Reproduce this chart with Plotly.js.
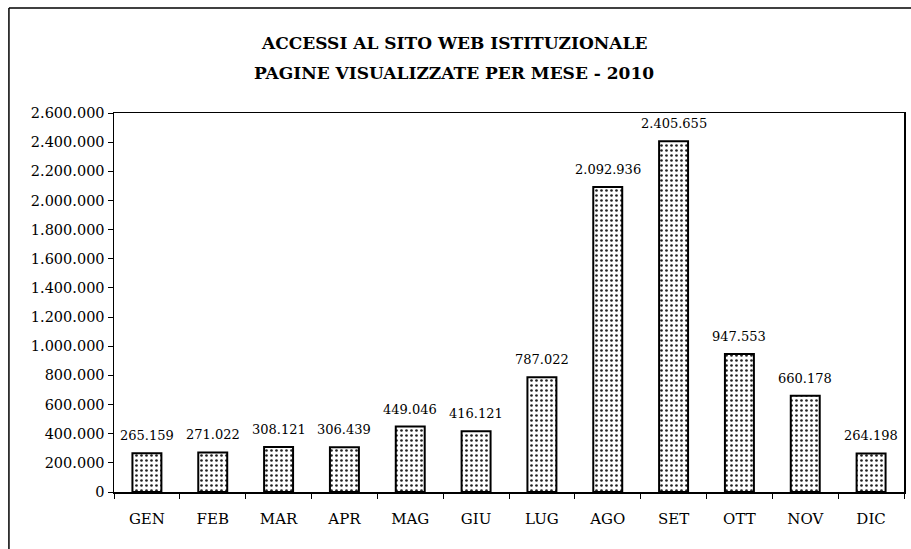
<!DOCTYPE html>
<html>
<head>
<meta charset="utf-8">
<script src="https://cdn.plot.ly/plotly-3.0.1.min.js"></script>
<style>html,body{margin:0;padding:0;background:#fff;}#chart{width:911px;height:549px;}</style>
</head>
<body>
<div id="chart"></div>
<script>
const months = ["GEN","FEB","MAR","APR","MAG","GIU","LUG","AGO","SET","OTT","NOV","DIC"];
const pageViews = [265159, 271022, 308121, 306439, 449046, 416121, 787022, 2092936, 2405655, 947553, 660178, 264198];
const yTickVals = [0,200000,400000,600000,800000,1000000,1200000,1400000,1600000,1800000,2000000,2200000,2400000,2600000];
const titleLines = ["ACCESSI AL SITO WEB ISTITUZIONALE", "PAGINE VISUALIZZATE PER MESE - 2010"];

const serif = "DejaVu Serif, Liberation Serif, serif";

function fmtIt(v) {
  return String(v).replace(/\B(?=(\d{3})+(?!\d))/g, ".");
}

const trace = {
  type: "bar",
  x: months,
  y: pageViews,
  marker: {
    color: "#fff",
    line: {color: "#000", width: 2},
    pattern: {shape: ".", fgcolor: "#222", bgcolor: "#fff", size: 5, solidity: 0.22}
  },
  hoverinfo: "skip"
};

const valueLabels = months.map((m, i) => ({
  text: fmtIt(pageViews[i]),
  x: m, y: pageViews[i], xref: "x", yref: "y",
  xanchor: "center", yanchor: "bottom", yshift: 8,
  showarrow: false,
  font: {family: serif, size: 13, color: "#000"}
}));

const titleAnn = [
  {text: "<b>" + titleLines[0] + "</b>", xref: "paper", yref: "paper", x: 0.43, y: 1.185, xanchor: "center", yanchor: "middle", showarrow: false, font: {family: serif, size: 17, color: "#000"}},
  {text: "<b>" + titleLines[1] + "</b>", xref: "paper", yref: "paper", x: 0.43, y: 1.1055, xanchor: "center", yanchor: "middle", showarrow: false, font: {family: serif, size: 17, color: "#000"}}
];

const layout = {
  width: 911, height: 549,
  margin: {l: 114, r: 7, t: 113, b: 57},
  paper_bgcolor: "#fff", plot_bgcolor: "#fff",
  separators: ",.",
  showlegend: false,
  bargap: 0.56,
  font: {family: serif, color: "#000"},
  annotations: titleAnn.concat(valueLabels),
  xaxis: {
    showline: true, linecolor: "#000", linewidth: 1.5, mirror: true,
    ticks: "outside", tickson: "boundaries", ticklen: 5, tickcolor: "#000",
    ticklabelstandoff: 12,
    showgrid: false, zeroline: false,
    tickfont: {family: serif, size: 15, color: "#000"},
    fixedrange: true
  },
  yaxis: {
    range: [0, 2600000],
    tickvals: yTickVals,
    tickformat: ",d",
    showline: true, linecolor: "#000", linewidth: 1.5, mirror: true,
    ticks: "outside", ticklen: 5, tickcolor: "#000",
    showgrid: false, zeroline: false,
    tickfont: {family: serif, size: 14.5, color: "#000"},
    fixedrange: true
  },
  shapes: [
    {type: "line", xref: "paper", yref: "paper", x0: -0.133, x1: 1.01, y0: 1.277, y1: 1.277, line: {color: "#000", width: 1.5}},
    {type: "line", xref: "paper", yref: "paper", x0: -0.133, x1: -0.133, y0: 1.277, y1: -0.16, line: {color: "#000", width: 1.5}}
  ]
};

Plotly.newPlot("chart", [trace], layout, {staticPlot: true, displayModeBar: false});
</script>
</body>
</html>
